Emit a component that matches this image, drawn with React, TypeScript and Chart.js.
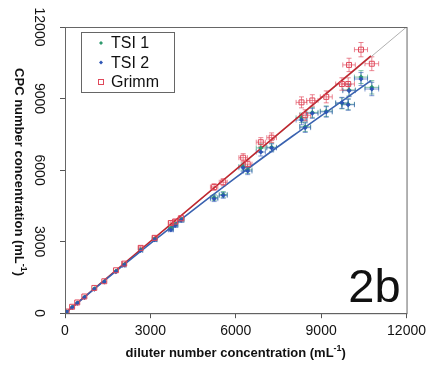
import React, { useEffect, useRef } from "react";
import { Chart, registerables } from "chart.js";

Chart.register(...registerables);

// ---- data ----
const diluterConc = [60, 250, 430, 680, 1030, 1380, 1790, 2080, 2660, 3150, 3720, 3870, 4080, 5240, 5560, 6260, 6420, 6880, 7260, 8310, 8440, 8690, 9180, 9730, 9950, 9980, 10400, 10780];
const diluterErr = [5, 10, 15, 20, 30, 40, 50, 60, 70, 80, 90, 95, 100, 130, 140, 150, 150, 160, 170, 190, 190, 200, 210, 220, 220, 220, 230, 240];

const tsi1Conc = [60, 250, 430, 670, 1020, 1320, 1760, 2030, 2660, 3100, 3560, 3720, 3920, 4850, 4980, 6150, 6010, 6930, 6960, 8190, 7820, 8420, 8470, 8800, 8760, 9360, 9900, 9470];
const tsi1Err = [3, 6, 10, 15, 20, 30, 40, 45, 60, 70, 80, 85, 90, 120, 120, 150, 150, 170, 170, 200, 200, 210, 220, 230, 230, 250, 270, 280];

const tsi2Conc = [55, 240, 420, 660, 1000, 1310, 1740, 2010, 2630, 3080, 3500, 3680, 3900, 4800, 4940, 6100, 5960, 6760, 6930, 8100, 7780, 8380, 8440, 8820, 8740, 9330, 9820, 9400];
const tsi2Err = [3, 6, 10, 15, 20, 30, 40, 45, 60, 70, 80, 85, 90, 120, 120, 150, 150, 170, 170, 200, 200, 210, 220, 230, 230, 250, 270, 280];

const grimmConc = [70, 270, 450, 700, 1060, 1340, 1800, 2080, 2740, 3160, 3780, 3840, 3980, 5290, 5490, 6520, 6250, 7170, 7360, 8840, 8300, 8920, 9070, 9610, 9610, 10410, 11050, 10460];
const grimmErr = [5, 10, 15, 20, 30, 40, 50, 60, 75, 85, 100, 105, 110, 140, 150, 170, 170, 190, 200, 230, 230, 240, 250, 260, 260, 280, 300, 290];

const tsiFitX = [0, 2000, 4000, 6000, 8000, 10750];
const tsiFitY = [0, 1965, 3860, 5680, 7430, 9750];
const grimmFitX = [0, 10750];
const grimmFitY = [0, 10790];
const oneToOne = [0, 12000];

const axisTicks = [0, 3000, 6000, 9000, 12000];
const legendLabels = ["TSI 1", "TSI 2", "Grimm"];
const panelLabel = "2b";

const FONT = "'Liberation Sans', Arial, Helvetica, sans-serif";
const GREEN = "#2f9a6e";
const BLUE = "#2d55b5";
const RED = "#e0485a";

const pts = (xs: number[], ys: number[]) => xs.map((x, i) => ({ x, y: ys[i] }));

function drawRich(ctx: CanvasRenderingContext2D, parts: { t: string; sup?: boolean }[], size: number) {
  const main = `bold ${size}px ${FONT}`;
  const sup = `bold ${Math.round(size * 0.7)}px ${FONT}`;
  let total = 0;
  const widths = parts.map((p) => {
    ctx.font = p.sup ? sup : main;
    const w = ctx.measureText(p.t).width;
    total += w;
    return w;
  });
  let x = -total / 2;
  ctx.textAlign = "left";
  ctx.textBaseline = "middle";
  parts.forEach((p, i) => {
    ctx.font = p.sup ? sup : main;
    ctx.fillText(p.t, x, p.sup ? -size * 0.35 : 0);
    x += widths[i];
  });
}

const errorBarsPlugin = {
  id: "errorBars",
  beforeDatasetsDraw(chart: any) {
    const { ctx } = chart;
    const xs = chart.scales.x;
    const ys = chart.scales.y;
    chart.data.datasets.forEach((ds: any) => {
      if (!ds.errY) return;
      ctx.save();
      ctx.strokeStyle = ds.errColor;
      ctx.lineWidth = 1;
      ds.data.forEach((p: any, j: number) => {
        const px = xs.getPixelForValue(p.x);
        const py = ys.getPixelForValue(p.y);
        const x1 = xs.getPixelForValue(p.x - ds.errX[j]);
        const x2 = xs.getPixelForValue(p.x + ds.errX[j]);
        const y1 = ys.getPixelForValue(p.y - ds.errY[j]);
        const y2 = ys.getPixelForValue(p.y + ds.errY[j]);
        const cap = 2.5;
        ctx.beginPath();
        ctx.moveTo(x1, py); ctx.lineTo(x2, py);
        ctx.moveTo(px, y1); ctx.lineTo(px, y2);
        if (x2 - x1 > 3) {
          ctx.moveTo(x1, py - cap); ctx.lineTo(x1, py + cap);
          ctx.moveTo(x2, py - cap); ctx.lineTo(x2, py + cap);
        }
        if (y1 - y2 > 3) {
          ctx.moveTo(px - cap, y1); ctx.lineTo(px + cap, y1);
          ctx.moveTo(px - cap, y2); ctx.lineTo(px + cap, y2);
        }
        ctx.stroke();
      });
      ctx.restore();
    });
  },
};

const decorPlugin = {
  id: "decor",
  afterDraw(chart: any) {
    const { ctx, chartArea } = chart;
    const ys = chart.scales.y;
    const { left, right, top, bottom } = chartArea;
    ctx.save();
    ctx.strokeStyle = "#666";
    ctx.lineWidth = 1;
    ctx.strokeRect(left + 0.5, top + 0.5, right - left, bottom - top);

    ctx.fillStyle = "#111";
    ctx.font = `14px ${FONT}`;
    axisTicks.forEach((v) => {
      const py = ys.getPixelForValue(v);
      ctx.save();
      ctx.translate(left - 26, py);
      ctx.rotate(Math.PI / 2);
      ctx.textAlign = "center";
      ctx.textBaseline = "middle";
      ctx.fillText(String(v), 0, 0);
      ctx.restore();
    });

    ctx.save();
    ctx.translate(left - 46, (top + bottom) / 2 + 2);
    ctx.rotate(Math.PI / 2);
    drawRich(ctx, [{ t: "CPC number concentration (mL" }, { t: "-1", sup: true }, { t: ")" }], 13);
    ctx.restore();

    ctx.save();
    ctx.translate((left + right) / 2, bottom + 40);
    drawRich(ctx, [{ t: "diluter number concentration (mL" }, { t: "-1", sup: true }, { t: ")" }], 13);
    ctx.restore();

    const lx = left + 16;
    const ly = top + 5;
    ctx.strokeStyle = "#666";
    ctx.strokeRect(lx + 0.5, ly + 0.5, 93, 60);
    const cols = [GREEN, BLUE, RED];
    legendLabels.forEach((lab, i) => {
      const cy = ly + 11 + i * 19.5;
      const mx = lx + 20;
      if (i < 2) {
        ctx.fillStyle = cols[i];
        ctx.beginPath();
        ctx.moveTo(mx, cy - 2); ctx.lineTo(mx + 2, cy); ctx.lineTo(mx, cy + 2); ctx.lineTo(mx - 2, cy);
        ctx.closePath();
        ctx.fill();
      } else {
        ctx.strokeStyle = cols[i];
        ctx.strokeRect(mx - 2.5, cy - 2.5, 5, 5);
      }
      ctx.fillStyle = "#111";
      ctx.font = `16px ${FONT}`;
      ctx.textAlign = "left";
      ctx.textBaseline = "middle";
      ctx.fillText(lab, lx + 30, cy + 1);
    });

    ctx.fillStyle = "#111";
    ctx.font = `47px ${FONT}`;
    ctx.textAlign = "right";
    ctx.textBaseline = "alphabetic";
    ctx.fillText(panelLabel, right - 6, bottom - 11);
    ctx.restore();
  },
};

export default function App() {
  const ref = useRef<HTMLCanvasElement>(null);

  useEffect(() => {
    if (!ref.current) return;
    const chart = new Chart(ref.current, {
      type: "scatter",
      data: {
        datasets: [
          {
            label: "TSI 1",
            data: pts(diluterConc, tsi1Conc),
            errX: diluterErr,
            errY: tsi1Err,
            errColor: "rgba(47,154,110,0.6)",
            pointStyle: "rectRot",
            pointRadius: 2.5,
            backgroundColor: GREEN,
            borderColor: GREEN,
            borderWidth: 0,
            order: 3,
          } as any,
          {
            label: "TSI 2",
            data: pts(diluterConc, tsi2Conc),
            errX: diluterErr,
            errY: tsi2Err,
            errColor: "rgba(45,85,181,0.6)",
            pointStyle: "rectRot",
            pointRadius: 2.5,
            backgroundColor: BLUE,
            borderColor: BLUE,
            borderWidth: 0,
            order: 2,
          } as any,
          {
            label: "Grimm",
            data: pts(diluterConc, grimmConc),
            errX: diluterErr,
            errY: grimmErr,
            errColor: "rgba(224,72,90,0.65)",
            pointStyle: "rect",
            pointRadius: 3.5,
            backgroundColor: "rgba(255,255,255,0)",
            borderColor: RED,
            borderWidth: 1,
            order: 1,
          } as any,
          {
            label: "1:1",
            data: pts(oneToOne, oneToOne),
            showLine: true,
            pointRadius: 0,
            borderColor: "#b0b0b0",
            borderWidth: 1,
            order: 6,
          } as any,
          {
            label: "Grimm fit",
            data: pts(grimmFitX, grimmFitY),
            showLine: true,
            pointRadius: 0,
            borderColor: "#c0262e",
            borderWidth: 1.6,
            order: 5,
          } as any,
          {
            label: "TSI fit",
            data: pts(tsiFitX, tsiFitY),
            showLine: true,
            pointRadius: 0,
            borderColor: "#3a62b0",
            borderWidth: 1.6,
            cubicInterpolationMode: "monotone",
            order: 4,
          } as any,
        ],
      },
      options: {
        responsive: false,
        maintainAspectRatio: false,
        animation: false,
        layout: { padding: { left: 60, right: 24, top: 27, bottom: 25 } },
        plugins: { legend: { display: false }, tooltip: { enabled: false } },
        scales: {
          x: {
            type: "linear",
            min: 0,
            max: 12000,
            afterBuildTicks: (s: any) => {
              s.ticks = axisTicks.map((v) => ({ value: v }));
            },
            ticks: {
              color: "#111",
              font: { family: FONT, size: 14 },
              padding: 5,
              maxRotation: 0,
              callback: (v: any) => String(v),
            },
            grid: { drawOnChartArea: false, drawTicks: true, tickLength: 5, color: "#555" },
            border: { display: true, color: "#555" },
          },
          y: {
            type: "linear",
            min: 0,
            max: 12000,
            afterBuildTicks: (s: any) => {
              s.ticks = axisTicks.map((v) => ({ value: v }));
            },
            ticks: { display: false },
            grid: { drawOnChartArea: false, drawTicks: true, tickLength: 5, color: "#555" },
            border: { display: true, color: "#555" },
          },
        },
      } as any,
      plugins: [errorBarsPlugin, decorPlugin],
    });
    return () => chart.destroy();
  }, []);

  return (
    <div style={{ position: "fixed", left: 0, top: 0, width: 431, height: 370, background: "#fff" }}>
      <canvas ref={ref} width={431} height={370} style={{ display: "block" }} />
    </div>
  );
}
